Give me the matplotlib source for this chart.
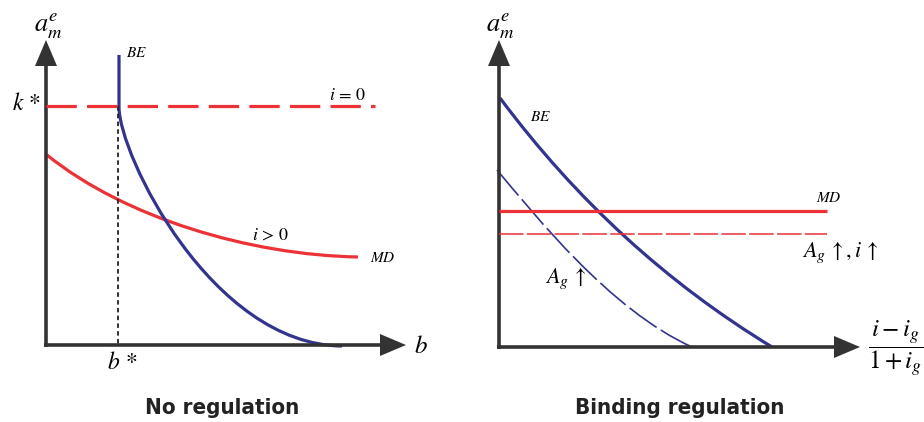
"""
Bank equity (BE) vs. market discipline (MD) diagram:
no regulation vs. binding regulation.
"""

import matplotlib
matplotlib.use("Agg")
import matplotlib.pyplot as plt
from matplotlib.path import Path
from matplotlib.patches import PathPatch
from matplotlib import font_manager

plt.rcParams["mathtext.fontset"] = "stix"
plt.rcParams["font.family"] = ["Liberation Serif", "DejaVu Serif"]

BLUE = "#33348e"
RED = "#ec3237"
AXIS = "#333333"

# --- curve vertices (pixel coords, y downwards) ---
# bezier vertices: start, control(s), end
# left panel: no regulation
left_be_x = [119, 119, 119, 212, 342]          # vertical stub, then cubic
left_be_y = [55, 107, 155, 345, 346]
left_md_x = [47, 125, 250, 358]                # cubic
left_md_y = [155, 218, 255, 257]
left_k_y = 106
left_k_x = [46, 375]
left_bstar_x = 118

# right panel: binding regulation
right_be_x = [500, 614, 772]                   # quadratic
right_be_y = [98, 251, 347]
right_be2_x = [497, 535, 610, 692]             # cubic
right_be2_y = [170, 215, 310, 347]
right_md_y = 211
right_md2_y = 234
right_md_x = [499, 827]

# axes origins / ends
panels = [
    {"x0": 46, "y0": 345, "xend": 406, "ytop": 40},
    {"x0": 499, "y0": 347, "xend": 860, "ytop": 40},
]


def bezier(ax, xs, ys, kinds, **kw):
    """Draw a path from vertices; kinds gives the matplotlib path code per vertex."""
    patch = PathPatch(Path(list(zip(xs, ys)), kinds), fill=False, **kw)
    ax.add_patch(patch)


M, L, C3, C4 = Path.MOVETO, Path.LINETO, Path.CURVE3, Path.CURVE4

# narrow bold face for panel titles
title_font = {"family": "DejaVu Sans", "weight": "bold", "stretch": "condensed"}
try:
    fp = font_manager.FontProperties(**title_font)
    if "Condensed" not in font_manager.findfont(fp, fallback_to_default=False):
        raise ValueError
    title_size = 16
except Exception:
    title_font = {"family": "Liberation Sans", "weight": "bold"}
    title_size = 14

fig = plt.figure(figsize=(9.24, 4.22), dpi=100)
ax = fig.add_axes([0, 0, 1, 1])
ax.set_xlim(0, 924)
ax.set_ylim(422, 0)
ax.axis("off")

# axes with arrow heads
for p in panels:
    ax.plot([p["x0"], p["x0"]], [p["y0"] + 2, p["ytop"] + 20], color=AXIS, lw=2.6,
            solid_capstyle="butt")
    ax.plot([p["x0"] - 2, p["xend"] - 20], [p["y0"], p["y0"]], color=AXIS, lw=2.6,
            solid_capstyle="butt")
    ax.fill([p["x0"] - 11, p["x0"] + 11, p["x0"]],
            [p["ytop"] + 26, p["ytop"] + 26, p["ytop"]], color=AXIS, lw=0)
    ax.fill([p["xend"] - 26, p["xend"] - 26, p["xend"]],
            [p["y0"] - 11, p["y0"] + 11, p["y0"]], color=AXIS, lw=0)

# ---- left panel ----
ax.plot([left_bstar_x, left_bstar_x], [left_k_y, 345], color="#222222", lw=1.3,
        dashes=(2.5, 1.8))
ax.plot(left_k_x, [left_k_y, left_k_y], color=RED, lw=2.3, dashes=(9.5, 3.2))
bezier(ax, left_md_x, left_md_y, [M, C4, C4, C4], color=RED, lw=2.3, capstyle="butt")
bezier(ax, left_be_x, left_be_y, [M, L, C4, C4, C4], color=BLUE, lw=2.3,
       capstyle="butt")

ax.text(48, 26, r"$a_m^e$", fontsize=19, ha="center", va="center")
ax.text(26, 104, r"$k\,*$", fontsize=17, ha="center", va="center")
ax.text(137, 53, r"$BE$", fontsize=11, ha="center", va="center")
ax.text(348, 95, r"$i\,=\,0$", fontsize=13, ha="center", va="center")
ax.text(271, 235, r"$i\,>\,0$", fontsize=13, ha="center", va="center")
ax.text(383, 258, r"$MD$", fontsize=11, ha="center", va="center")
ax.text(122, 363, r"$b\,*$", fontsize=17, ha="center", va="center")
ax.text(421, 347, r"$b$", fontsize=18, ha="center", va="center")
ax.text(222, 408, "No regulation", fontsize=title_size, ha="center", va="center",
        color="#222222", **title_font)

# ---- right panel ----
ax.plot(right_md_x, [right_md_y, right_md_y], color=RED, lw=2.3, solid_capstyle="butt")
ax.plot(right_md_x, [right_md2_y, right_md2_y], color=RED, lw=1.1, dashes=(16, 2.2))
bezier(ax, right_be2_x, right_be2_y, [M, C4, C4, C4], color=BLUE, lw=1.2,
       linestyle=(0, (20, 3)))
bezier(ax, right_be_x, right_be_y, [M, C3, C3], color=BLUE, lw=2.3, capstyle="butt")

ax.text(500, 26, r"$a_m^e$", fontsize=19, ha="center", va="center")
ax.text(541, 117, r"$BE$", fontsize=11, ha="center", va="center")
ax.text(829, 198, r"$MD$", fontsize=11, ha="center", va="center")
ax.text(840, 253, r"$A_g\,\uparrow, i\,\uparrow$", fontsize=16, ha="center",
        va="center")
ax.text(566, 279, r"$A_g\,\uparrow$", fontsize=16, ha="center", va="center")
ax.text(896, 349, r"$\dfrac{i-i_g}{1+i_g}$", fontsize=18, ha="center", va="center")
ax.text(680, 408, "Binding regulation", fontsize=title_size, ha="center", va="center",
        color="#222222", **title_font)

fig.savefig("out.png", dpi=100)
